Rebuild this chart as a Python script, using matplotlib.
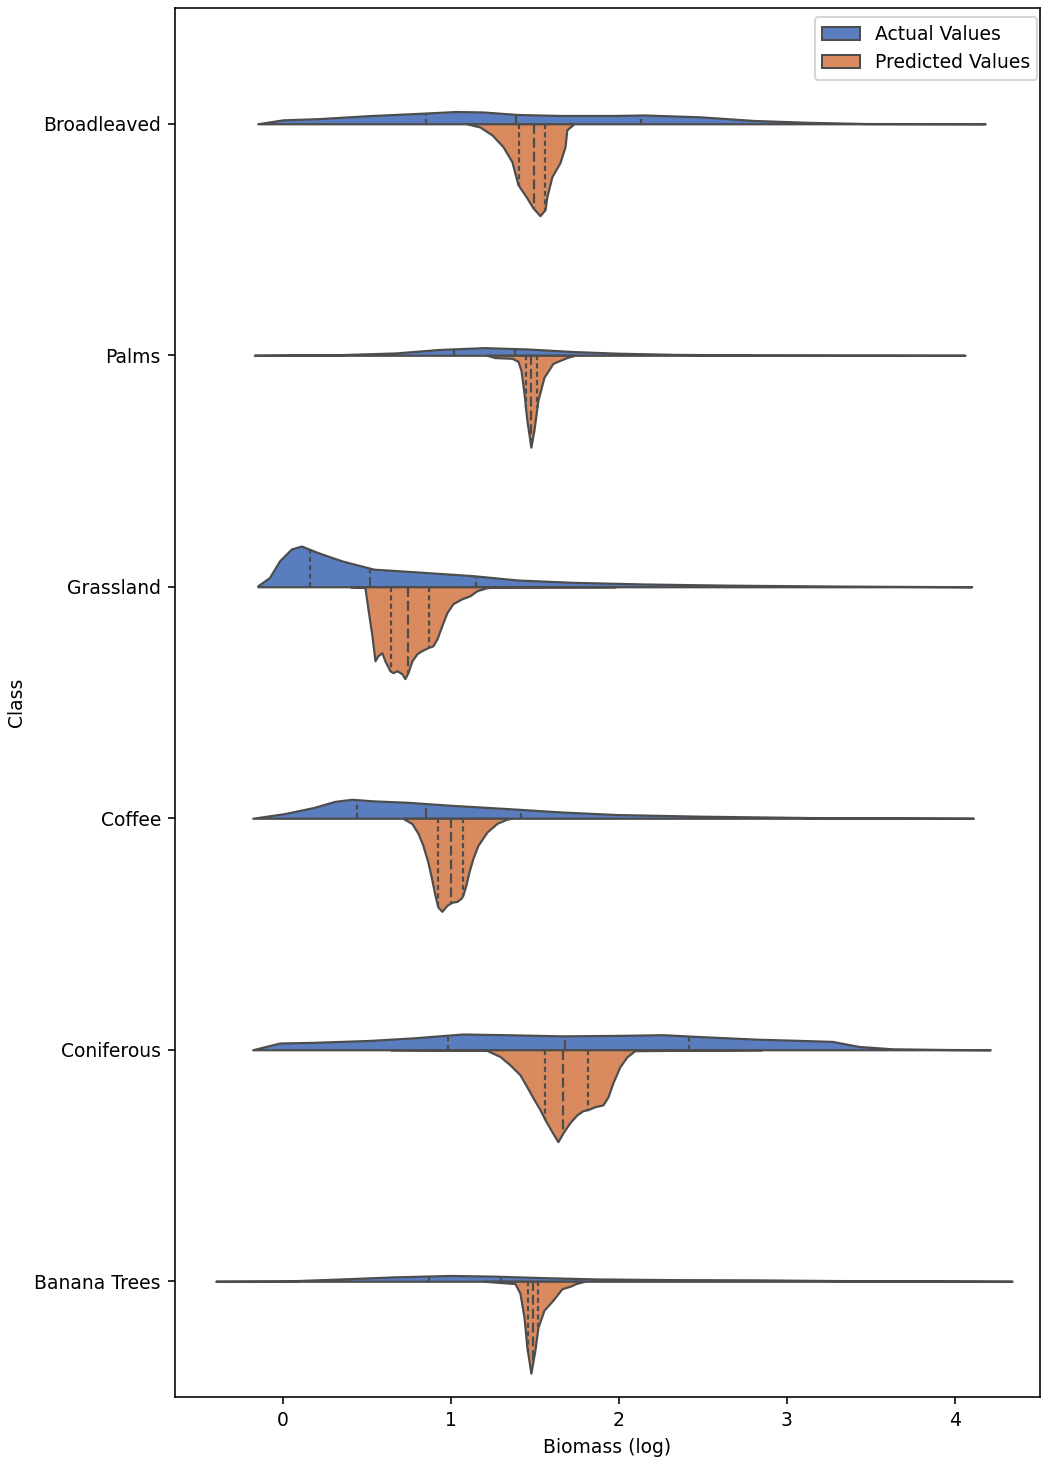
import matplotlib.pyplot as plt
import numpy as np
import seaborn as sns
from matplotlib.patches import Patch

plt.rcParams['font.size'] = 9.4

# classes, top to bottom
classes = ["Broadleaved", "Palms", "Grassland", "Coffee", "Coniferous", "Banana Trees"]

# density outlines: x = biomass (log), w = half-width (category units)
broad_act_x = [-0.15, 0.0, 0.21, 0.51, 0.84, 1.03, 1.19, 1.40, 1.65, 1.98, 2.15, 2.48, 2.81, 3.14, 3.47, 4.18]
broad_act_w = [0, .017, .022, .035, .046, .053, .051, .040, .036, .036, .038, .030, .014, .006, .001, 0]
broad_pred_x = [1.095, 1.173, 1.244, 1.310, 1.363, 1.399, 1.411, 1.452, 1.488, 1.530, 1.560, 1.571, 1.601,
                1.649, 1.679, 1.690, 1.726]
broad_pred_w = [0, .014, .048, .099, .164, .263, .276, .320, .363, .397, .371, .315, .229, .168, .099, .026, .004]

palms_act_x = [-0.17, 0.35, 0.67, 0.93, 1.20, 1.46, 1.73, 1.99, 2.32, 2.81, 4.06]
palms_act_w = [0, .003, .010, .025, .033, .027, .016, .009, .004, .001, 0]
palms_pred_x = [1.214, 1.262, 1.363, 1.399, 1.417, 1.435, 1.452, 1.476, 1.494, 1.518, 1.554, 1.607, 1.690, 1.738]
palms_pred_w = [0, .010, .013, .026, .065, .164, .281, .397, .324, .194, .095, .035, .010, 0]

grass_act_x = [-0.15, -0.08, -0.02, 0.05, 0.11, 0.21, 0.35, 0.54, 0.84, 1.13, 1.40, 1.73, 2.15, 2.64, 3.30, 4.10]
grass_act_w = [.004, .040, .112, .163, .176, .147, .112, .076, .062, .048, .029, .019, .012, .007, .003, 0]
grass_pred_x = [0.40, 0.488, 0.506, 0.530, 0.548, 0.565, 0.589, 0.607, 0.637, 0.655, 0.679, 0.708, 0.726, 0.744,
                0.768, 0.798, 0.827, 0.863, 0.893, 0.917, 0.946, 0.976, 1.012, 1.065, 1.113, 1.155, 1.214,
                1.274, 1.98]
grass_pred_w = [0, .003, .095, .212, .320, .298, .285, .320, .363, .371, .363, .376, .397, .371, .320, .289,
                .276, .263, .255, .225, .168, .112, .073, .052, .039, .017, .004, .001, 0]

coffee_act_x = [-0.18, 0.01, 0.18, 0.31, 0.41, 0.54, 0.74, 1.00, 1.33, 1.66, 1.99, 2.48, 3.14, 4.11]
coffee_act_w = [0, .020, .046, .073, .082, .075, .069, .056, .042, .027, .016, .009, .003, 0]
coffee_pred_x = [0.714, 0.768, 0.804, 0.833, 0.863, 0.887, 0.905, 0.923, 0.946, 0.976, 1.006, 1.036, 1.060,
                 1.071, 1.089, 1.107, 1.131, 1.161, 1.214, 1.274, 1.333, 1.363]
coffee_pred_w = [0, .023, .065, .117, .190, .268, .333, .384, .402, .376, .363, .359, .346, .333, .289, .233,
                 .173, .117, .060, .022, .004, 0]

conif_act_x = [-0.18, -0.02, 0.18, 0.51, 0.77, 1.07, 1.33, 1.66, 1.99, 2.26, 2.48, 2.81, 3.14, 3.27, 3.43,
               3.63, 3.96, 4.21]
conif_act_w = [0, .029, .032, .040, .051, .068, .065, .060, .062, .065, .057, .046, .039, .036, .014, .004, .001, 0]
conif_pred_x = [0.64, 1.214, 1.292, 1.351, 1.411, 1.452, 1.488, 1.530, 1.560, 1.601, 1.637, 1.667, 1.708,
                1.750, 1.786, 1.815, 1.857, 1.905, 1.935, 1.964, 2.006, 2.048, 2.095, 2.85]
conif_pred_w = [0, .003, .029, .065, .108, .160, .207, .259, .302, .354, .397, .359, .315, .281, .263, .259,
                .246, .238, .203, .143, .073, .030, .004, 0]

banana_act_x = [-0.40, 0.01, 0.35, 0.67, 1.0, 1.26, 1.53, 1.86, 2.32, 2.81, 3.30, 4.34]
banana_act_w = [0, .001, .010, .019, .025, .022, .016, .010, .007, .006, .003, 0]
banana_pred_x = [1.196, 1.381, 1.411, 1.435, 1.452, 1.476, 1.500, 1.518, 1.554, 1.607, 1.661, 1.708, 1.744, 1.792]
banana_pred_w = [0, .010, .052, .156, .285, .397, .298, .199, .125, .082, .032, .022, .010, .001]

# quartiles (25, 50, 75) per class
actual_quart = [[0.85, 1.39, 2.13], [1.02, 1.38, 1.92], [0.16, 0.52, 1.15],
                [0.44, 0.85, 1.42], [0.98, 1.68, 2.42], [0.87, 1.30, 1.75]]
pred_quart = [[1.405, 1.494, 1.560], [1.446, 1.476, 1.512], [0.643, 0.744, 0.869],
              [0.923, 1.000, 1.071], [1.560, 1.670, 1.815], [1.458, 1.488, 1.518]]

actual = [(broad_act_x, broad_act_w), (palms_act_x, palms_act_w), (grass_act_x, grass_act_w),
          (coffee_act_x, coffee_act_w), (conif_act_x, conif_act_w), (banana_act_x, banana_act_w)]
predicted = [(broad_pred_x, broad_pred_w), (palms_pred_x, palms_pred_w), (grass_pred_x, grass_pred_w),
             (coffee_pred_x, coffee_pred_w), (conif_pred_x, conif_pred_w), (banana_pred_x, banana_pred_w)]

pal = sns.color_palette("muted")
c_act = sns.desaturate(pal[0], 0.75)
c_pred = sns.desaturate(pal[1], 0.75)
line_c = "0.3"
lw = 1.1

fig = plt.figure(figsize=(1041 / 144, 1459 / 144), dpi=144)
ax = fig.add_axes([0.168, 0.0425, 0.831, 0.952])


def draw_half(ax, pos, xs, ws, quarts, color, side):
    xs = np.asarray(xs)
    ws = np.asarray(ws)
    edge = pos + side * ws
    ax.fill_between(xs, pos, edge, facecolor=color, edgecolor=line_c, linewidth=lw, zorder=2)
    for k, q in enumerate(quarts):
        w = np.interp(q, xs, ws)
        dash = (4.5, 1.8) if k == 1 else (2.3, 1.5)
        ax.plot([q, q], [pos, pos + side * w], color=line_c, linewidth=lw, dashes=dash, zorder=3)


for i, name in enumerate(classes):
    draw_half(ax, i, actual[i][0], actual[i][1], actual_quart[i], c_act, -1)
    draw_half(ax, i, predicted[i][0], predicted[i][1], pred_quart[i], c_pred, +1)

ax.set_ylim(5.5, -0.5)
ax.set_xlim(-0.643, 4.506)
ax.set_yticks(range(len(classes)))
ax.set_yticklabels(classes)
ax.set_xticks([0, 1, 2, 3, 4])
ax.set_xlabel("Biomass (log)")
ax.set_ylabel("Class")

handles = [Patch(facecolor=c_act, edgecolor=line_c, label="Actual Values"),
           Patch(facecolor=c_pred, edgecolor=line_c, label="Predicted Values")]
ax.legend(handles=handles, loc="upper right", bbox_to_anchor=(1.008, 1.0))

fig.savefig("out.png", dpi=144)
